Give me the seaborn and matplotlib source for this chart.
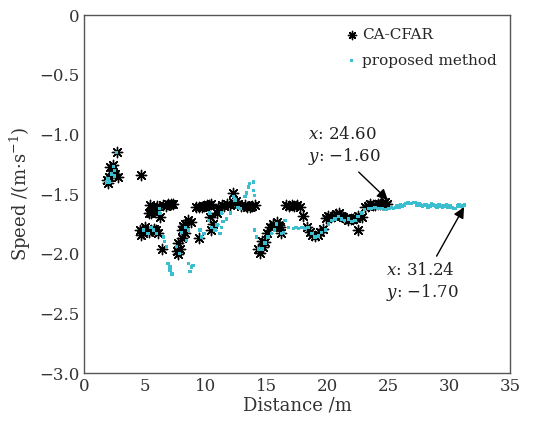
import numpy as np
import pandas as pd
import matplotlib
matplotlib.use("Agg")
import matplotlib.pyplot as plt
import seaborn as sns

# ---------- datos ----------
# CA-CFAR (asteriscos negros)
cfar_x = [1.84, 1.97, 2.1, 2.25, 2.4, 2.5, 2.66, 2.8, 2.0, 2.3,
          4.63,
          4.6, 4.85, 5.1, 5.3, 5.5, 5.7, 5.9, 6.1, 4.7, 5.0,
          5.3, 5.4, 5.5, 5.7, 5.9, 6.2, 6.5, 6.7, 6.9, 7.1, 7.3, 5.6, 6.0,
          6.35,
          7.6, 7.7, 7.85, 7.7,
          8.0, 8.15, 8.3, 8.55, 8.8, 8.3, 8.0,
          9.45,
          9.2, 9.45, 9.65, 9.85, 10.05, 10.25, 10.45,
          10.3, 10.6, 10.45,
          10.9, 11.0, 11.3, 11.5, 11.7, 11.95, 12.25, 12.25, 12.45, 12.65,
          12.9, 13.2, 13.4, 13.6, 13.8, 14.0,
          14.3, 14.45, 14.6, 14.7, 14.85, 15.0, 15.25, 15.5, 15.8, 16.1, 16.2, 16.0,
          16.6, 16.85, 17.05, 17.25, 17.45, 17.7, 18.0,
          18.3, 18.55, 18.75, 18.95, 19.2, 19.4, 19.65,
          19.85, 20.05, 20.3, 20.5, 20.7, 20.9, 21.1, 21.3, 21.5, 21.7, 21.9,
          22.1, 22.3, 22.5, 22.8, 22.5,
          23.05, 23.3, 23.5, 23.7, 23.9, 24.1, 24.3, 24.5, 24.7, 24.85]
cfar_y = [-1.38, -1.41, -1.27, -1.33, -1.26, -1.33, -1.15, -1.36, -1.36, -1.30,
          -1.34,
          -1.80, -1.83, -1.80, -1.82, -1.80, -1.79, -1.80, -1.83, -1.84, -1.78,
          -1.66, -1.59, -1.66, -1.62, -1.62, -1.69, -1.59, -1.60, -1.58, -1.58, -1.58, -1.64, -1.60,
          -1.96,
          -1.98, -2.00, -1.96, -1.91,
          -1.80, -1.77, -1.75, -1.72, -1.73, -1.83, -1.87,
          -1.87,
          -1.61, -1.61, -1.61, -1.60, -1.59, -1.59, -1.58,
          -1.69, -1.75, -1.80,
          -1.66, -1.62, -1.59, -1.60, -1.58, -1.59, -1.57, -1.49, -1.56, -1.58,
          -1.60, -1.59, -1.61, -1.61, -1.60, -1.59,
          -1.96, -1.99, -1.89, -1.94, -1.90, -1.83, -1.78, -1.75, -1.73, -1.78, -1.83, -1.76,
          -1.59, -1.60, -1.59, -1.60, -1.59, -1.61, -1.68,
          -1.78, -1.82, -1.84, -1.85, -1.84, -1.82, -1.79,
          -1.70, -1.68, -1.69, -1.68, -1.67, -1.66, -1.68, -1.69, -1.70, -1.72, -1.71,
          -1.71, -1.70, -1.68, -1.69, -1.80,
          -1.61, -1.60, -1.58, -1.59, -1.59, -1.58, -1.58, -1.58, -1.57, -1.58]

# método propuesto (puntos cian)
prop_x = [1.84, 1.97, 2.1, 2.25, 2.4, 2.5, 2.66, 2.5,
          4.85, 5.25, 5.5, 5.7, 5.95, 6.2, 6.2, 6.5, 6.6, 6.75, 6.9, 7.05, 7.05, 7.2,
          7.6, 7.85, 8.0, 8.3, 8.4, 8.55, 8.7, 8.8, 8.95, 8.55, 9.5, 9.65, 9.85,
          10.2, 10.3, 10.45, 10.75, 10.9, 11.15, 11.3, 11.4, 11.7, 12.0, 11.3,
          12.25, 12.4, 12.65, 12.8, 13.2, 13.35, 13.5, 13.6, 13.9, 13.9, 14.0, 14.0, 14.15,
          14.3, 14.6, 14.85, 15.1, 15.4, 15.65, 15.8, 16.2, 16.35, 16.5, 16.8,
          17.2, 17.4, 17.6, 17.85, 18.15, 18.4, 18.7, 18.95, 19.25, 19.5, 19.8,
          20.05, 20.35, 20.6, 20.9, 21.15, 21.4, 21.7, 22.0, 22.25, 22.5, 22.8,
          23.05, 23.35, 23.6, 23.9, 24.15, 24.45, 24.7, 25.0,
          25.1, 25.25, 25.4, 25.55, 25.7, 25.85, 26.0, 26.15, 26.3, 26.45, 26.6,
          26.75, 26.9, 27.05, 27.2, 27.35, 27.5, 27.65, 27.8, 27.95, 28.1, 28.25,
          28.4, 28.55, 28.7, 28.85, 29.0, 29.15, 29.3, 29.45, 29.6, 29.75, 29.9,
          30.05, 30.2, 30.35, 30.5, 30.65, 30.8, 30.95, 31.1, 31.24]
prop_y = [-1.40, -1.37, -1.40, -1.33, -1.27, -1.30, -1.15, -1.35,
          -1.80, -1.83, -1.78, -1.80, -1.83, -1.62, -1.66, -1.86, -1.90, -1.94, -2.08, -2.14, -2.11, -2.17,
          -1.94, -2.00, -1.82, -1.78, -1.89, -2.08, -2.15, -2.11, -2.10, -1.80, -1.80, -1.86, -1.83,
          -1.72, -1.66, -1.78, -1.80, -1.76, -1.83, -1.78, -1.73, -1.71, -1.66, -1.66,
          -1.52, -1.55, -1.61, -1.62, -1.52, -1.49, -1.44, -1.41, -1.40, -1.47, -1.51, -1.80, -1.86,
          -1.96, -1.96, -1.91, -1.86, -1.83, -1.80, -1.75, -1.83, -1.82, -1.72, -1.78,
          -1.79, -1.78, -1.79, -1.78, -1.79, -1.78, -1.83, -1.86, -1.85, -1.82, -1.80,
          -1.75, -1.72, -1.71, -1.69, -1.71, -1.72, -1.71, -1.73, -1.72, -1.69, -1.66,
          -1.63, -1.62, -1.62, -1.61, -1.62, -1.62, -1.63, -1.62,
          -1.62, -1.61, -1.62, -1.61, -1.60, -1.61, -1.59, -1.60, -1.59, -1.58, -1.57,
          -1.58, -1.58, -1.57, -1.57, -1.59, -1.58, -1.59, -1.60, -1.59, -1.59, -1.61,
          -1.60, -1.58, -1.59, -1.60, -1.61, -1.59, -1.60, -1.61, -1.60, -1.59, -1.61,
          -1.60, -1.61, -1.62, -1.62, -1.60, -1.59, -1.60, -1.61, -1.59]

x_ticks = [0, 5, 10, 15, 20, 25, 30, 35]
y_ticks = [0, -0.5, -1.0, -1.5, -2.0, -2.5, -3.0]

cfar = pd.DataFrame({"x": cfar_x, "y": cfar_y})
prop = pd.DataFrame({"x": prop_x, "y": prop_y})

sns.set_style("white")
plt.rcParams["font.family"] = ["DejaVu Serif"]
plt.rcParams["mathtext.fontset"] = "dejavuserif"

fig = plt.figure(figsize=(5.54, 4.21), dpi=100)
ax = fig.add_axes([0.152, 0.114, 0.769, 0.850])

sns.scatterplot(data=cfar, x="x", y="y", ax=ax, marker=(8, 2, 0), s=55,
                color="black", edgecolor="black", linewidth=1.0,
                label="CA-CFAR", zorder=2)
sns.scatterplot(data=prop, x="x", y="y", ax=ax, marker="s", s=6,
                color="#3bbfd0", edgecolor="none", linewidth=0,
                label="proposed method", zorder=3)

ax.set_xlim(0, 35)
ax.set_ylim(-3.0, 0)
ax.set_xticks(x_ticks)
ax.set_yticks(y_ticks)
ax.set_yticklabels(["0", "\u22120.5", "\u22121.0", "\u22121.5", "\u22122.0",
                    "\u22122.5", "\u22123.0"])
ax.tick_params(direction="in", length=3, labelsize=12, colors="#333333")
for sp in ax.spines.values():
    sp.set_color("#555555")
    sp.set_linewidth(1.0)

ax.set_xlabel("Distance /m", fontsize=13, labelpad=1, color="#333333")
ax.set_ylabel("Speed /(m\u00b7s$^{-1}$)", fontsize=13, labelpad=4, color="#333333")

ax.legend(loc="upper right", frameon=False, fontsize=11,
          handletextpad=0.1, handlelength=1.2, borderaxespad=0.45,
          labelspacing=0.75, markerscale=0.8)

ax.annotate("$x$: 24.60\n$y$: \u22121.60", xy=(24.95, -1.55), xytext=(18.4, -1.10),
            fontsize=12, va="center", ha="left", color="#222222",
            arrowprops=dict(arrowstyle="-|>", color="black", lw=1.0,
                            mutation_scale=16, shrinkA=2, shrinkB=0,
                            relpos=(0.62, 0.0)))
ax.annotate("$x$: 31.24\n$y$: \u22121.70", xy=(31.2, -1.61), xytext=(24.8, -2.24),
            fontsize=12, va="center", ha="left", color="#222222",
            arrowprops=dict(arrowstyle="-|>", color="black", lw=1.0,
                            mutation_scale=16, shrinkA=2, shrinkB=0,
                            relpos=(0.65, 1.0)))

fig.savefig("out.png", dpi=100)
